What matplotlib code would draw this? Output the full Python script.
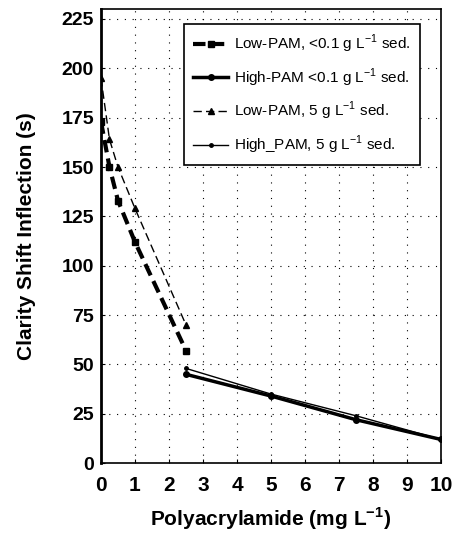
import matplotlib
matplotlib.use("Agg")
import matplotlib.pyplot as plt

# Data
x_low = [0, 0.25, 0.5, 1, 2.5]
low_pam_clear = [173, 150, 133, 112, 57]
low_pam_sed = [195, 164, 150, 129, 70]

x_high = [2.5, 5, 7.5, 10]
high_pam_clear = [45, 34, 22, 12]
high_pam_sed = [48, 35, 24, 12]

labels = [
    r"Low-PAM, <0.1 g L$^{-1}$ sed.",
    r"High-PAM <0.1 g L$^{-1}$ sed.",
    r"Low-PAM, 5 g L$^{-1}$ sed.",
    r"High_PAM, 5 g L$^{-1}$ sed.",
]

plt.rcParams["font.family"] = ["Liberation Sans", "DejaVu Sans"]
plt.rcParams["mathtext.fontset"] = "custom"
plt.rcParams["mathtext.rm"] = "Liberation Sans"
plt.rcParams["mathtext.bf"] = "Liberation Sans:bold"

fig = plt.figure(figsize=(4.59, 5.33), dpi=100)
ax = fig.add_axes([0.22, 0.131, 0.741, 0.852])

ax.plot(x_low, low_pam_clear, color="black", lw=3, ls=(0, (3, 1.5)),
        marker="s", ms=4, label=labels[0])
ax.plot(x_high, high_pam_clear, color="black", lw=2.5, ls="-",
        marker="o", ms=4, label=labels[1])
ax.plot(x_low, low_pam_sed, color="black", lw=1, ls=(0, (6, 3)),
        marker="^", ms=4, label=labels[2])
ax.plot(x_high, high_pam_sed, color="black", lw=1, ls="-",
        marker=".", ms=5, label=labels[3])

ax.set_xlim(0, 10)
ax.set_ylim(0, 230)
ax.set_xticks(range(0, 11))
ax.set_yticks(range(0, 226, 25))
ax.grid(True, color="black", ls=(0, (1, 6)), lw=0.8)
ax.tick_params(direction="in", length=3, labelsize=14, pad=5)
ax.tick_params(axis="x", labelsize=15, pad=9)
for lab in ax.get_xticklabels() + ax.get_yticklabels():
    lab.set_fontweight("bold")
for s in ax.spines.values():
    s.set_linewidth(1.2)
ax.spines["left"].set_linewidth(2)

ax.set_xlabel(r"Polyacrylamide (mg L$^{\mathbf{-1}}$)", fontsize=15,
              fontweight="bold", labelpad=8)
ax.set_ylabel("Clarity Shift Inflection (s)", fontsize=15, fontweight="bold",
              labelpad=18)

leg = ax.legend(loc="upper right", bbox_to_anchor=(0.96, 0.985), fontsize=11,
                frameon=True, fancybox=False, edgecolor="black",
                framealpha=1, handlelength=2.3, labelspacing=0.75,
                borderpad=0.6, handletextpad=0.4)
leg.get_frame().set_linewidth(1.2)

fig.savefig("out.png", dpi=100)
